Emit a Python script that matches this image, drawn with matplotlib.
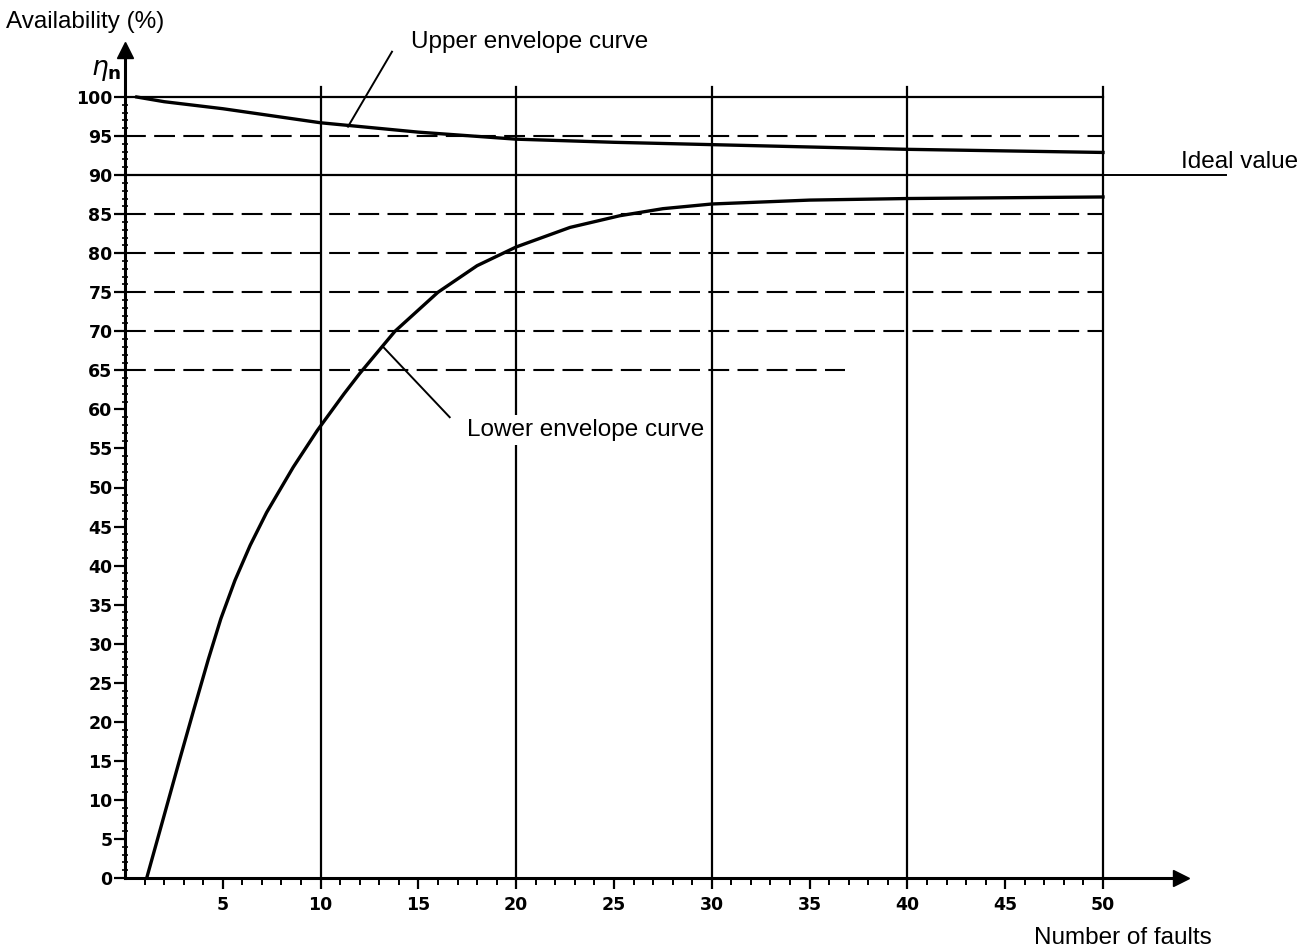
import numpy as np
import matplotlib
matplotlib.use("Agg")
import matplotlib.pyplot as plt

# values
upper_x = [0.6, 2, 5, 10, 15, 20, 25, 30, 35, 40, 45, 50]
upper_y = [100, 99.4, 98.5, 96.7, 95.5, 94.6, 94.2, 93.9, 93.6, 93.3, 93.1, 92.9]

lower_x = [1.11, 2.0, 2.81, 3.5, 4.26, 4.9, 5.62, 6.4, 7.24, 8.6, 9.83,
           11.2, 12.0, 13.8, 16.0, 18.0, 20.0, 22.75, 25.3, 27.5, 30, 35,
           40, 45, 50]
lower_y = [0, 8.0, 15.3, 21.4, 28.0, 33.2, 38.1, 42.6, 46.8, 52.6, 57.3,
           62.0, 64.6, 70, 75, 78.4, 80.8, 83.3, 84.8, 85.7, 86.3, 86.8,
           87.0, 87.1, 87.2]

solid_levels = [100, 90]
dashed_levels = [95, 85, 80, 75, 70, 65]
dashed_ends = [50, 50, 50, 50, 50, 36.8]
vert_lines = [10, 20, 30, 40, 50]
ideal_value = 90

y_ticks = list(range(0, 101, 5))
x_ticks = list(range(5, 51, 5))

W, H = 1309, 949
fig = plt.figure(figsize=(W / 100, H / 100), dpi=100)
# axis origin at pixel (125, 878), 19.56 px per fault, 7.81 px per percent
ax = fig.add_axes([125 / W, (H - 878) / H, 54 * 19.56 / W, 106 * 7.81 / H])
ax.set_xlim(0, 54)
ax.set_ylim(0, 106)
ax.patch.set_alpha(0)

ax.spines['top'].set_visible(False)
ax.spines['right'].set_visible(False)
ax.spines['left'].set_linewidth(2.2)
ax.spines['bottom'].set_linewidth(2.2)

ax.set_yticks(y_ticks)
ax.set_yticks(range(0, 101), minor=True)
ax.set_xticks(x_ticks)
ax.set_xticks(range(1, 51), minor=True)
ax.tick_params(axis='y', which='major', direction='out', length=8, width=1.6,
               labelsize=12.5, pad=1)
ax.tick_params(axis='y', which='minor', direction='inout', length=5, width=1.2)
ax.tick_params(axis='x', which='major', direction='out', length=8, width=1.6,
               labelsize=12.5, pad=5)
ax.tick_params(axis='x', which='minor', direction='out', length=5, width=1.4)
for lab in ax.get_xticklabels() + ax.get_yticklabels():
    lab.set_fontweight('bold')
    lab.set_family('DejaVu Sans')

# arrow heads
ax.plot(54, 0, marker='>', color='black', markersize=11, clip_on=False)
ax.plot(0, 106, marker='^', color='black', markersize=11, clip_on=False)

# grid
for xv in vert_lines:
    ax.plot([xv, xv], [0, 101.3], color='black', lw=1.6)
for lv in solid_levels:
    ax.plot([0, 50], [lv, lv], color='black', lw=1.6)
ax.plot([50, 56.3], [ideal_value, ideal_value], color='black', lw=1.4, clip_on=False)
for lv, xe in zip(dashed_levels, dashed_ends):
    ax.plot([0, xe], [lv, lv], color='black', lw=1.5, dashes=(10, 4))

# envelope curves
ax.plot(upper_x, upper_y, color='black', lw=2.4, solid_joinstyle='round')
ax.plot(lower_x, lower_y, color='black', lw=2.4, solid_joinstyle='round')

# labels and leaders
txt = dict(family='Liberation Sans', fontsize=17.5, color='black')
ax.text(14.6, 107, 'Upper envelope curve', ha='left', va='center', **txt)
ax.plot([13.65, 11.4], [105.8, 96.2], color='black', lw=1.4, clip_on=False)

ax.text(17.5, 57.4, 'Lower envelope curve', ha='left', va='center', zorder=5,
        bbox=dict(facecolor='white', edgecolor='none', pad=3), **txt)
ax.plot([16.6, 13.2], [59.0, 68.0], color='black', lw=1.4)

ax.text(54.0, ideal_value + 0.3, 'Ideal value', ha='left', va='bottom', **txt)
ax.text(-6.1, 109.6, 'Availability (%)', ha='left', va='center', **txt)
ax.text(-0.2, 103.5, r'$\eta_\mathbf{n}$', ha='right', va='center', fontsize=19,
        fontweight='bold')
ax.text(51.0, -7.7, 'Number of faults', ha='center', va='center', **txt)

fig.savefig('out.png', dpi=100)
